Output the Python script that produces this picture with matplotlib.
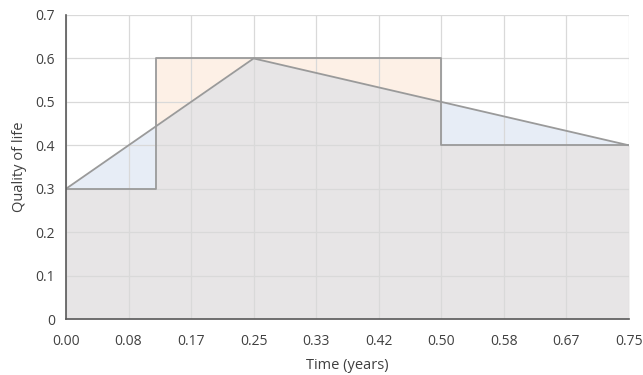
import numpy as np
import matplotlib.pyplot as plt

# quality of life: stepwise observed values and linear interpolation
step_time = [0.0, 0.12, 0.12, 0.5, 0.5, 0.75]
step_qol = [0.3, 0.3, 0.6, 0.6, 0.4, 0.4]
line_time = [0.0, 0.25, 0.75]
line_qol = [0.3, 0.6, 0.4]

x_ticks = [i / 12 for i in range(10)]
x_labels = ["%.2f" % t for t in x_ticks]
y_ticks = [0, 0.1, 0.2, 0.3, 0.4, 0.5, 0.6, 0.7]
y_labels = ["0", "0.1", "0.2", "0.3", "0.4", "0.5", "0.6", "0.7"]

plt.rcParams["font.family"] = ["Open Sans", "DejaVu Sans"]

fig = plt.figure(figsize=(6.43, 3.75), dpi=100)
ax = fig.add_axes([0.1026, 0.149, 0.8756, 0.811])

# dense grid to combine both curves for the fills
t = np.union1d(np.linspace(0, 0.75, 1501), [0.12, 0.25, 0.5])
s = np.interp(t, [0.0, 0.12, 0.12 + 1e-9, 0.5, 0.5 + 1e-9, 0.75],
              [0.3, 0.3, 0.6, 0.6, 0.4, 0.4])
l = np.interp(t, line_time, line_qol)
low = np.minimum(s, l)

ax.fill_between(t, 0, low, color="#e7e5e6", lw=0, zorder=1)
ax.fill_between(t, l, s, where=s >= l, color="#fdf0e6", lw=0, zorder=1, interpolate=True)
ax.fill_between(t, s, l, where=l >= s, color="#e7edf6", lw=0, zorder=1, interpolate=True)

ax.plot(step_time, step_qol, color="#9a9a9a", lw=1.3, zorder=3)
ax.plot(line_time, line_qol, color="#9a9a9a", lw=1.3, zorder=3)

ax.set_xlim(0, 0.75)
ax.set_ylim(0, 0.7)
ax.set_xticks(x_ticks)
ax.set_xticklabels(x_labels)
ax.set_yticks(y_ticks)
ax.set_yticklabels(y_labels)
ax.tick_params(length=0, labelsize=10, colors="#404040", pad=8)
ax.tick_params(axis="x", pad=11)
ax.grid(True, color="#d9d9d9", lw=0.9, zorder=2)
ax.set_axisbelow(False)

for side in ["top", "right"]:
    ax.spines[side].set_visible(False)
for side in ["left", "bottom"]:
    ax.spines[side].set_color("#595959")
    ax.spines[side].set_linewidth(1.2)
    ax.spines[side].set_zorder(4)

ax.set_xlabel("Time (years)", fontsize=10.5, color="#404040", labelpad=6)
ax.set_ylabel("Quality of life", fontsize=10.5, color="#404040", labelpad=6)

fig.savefig("out.png", dpi=100)
